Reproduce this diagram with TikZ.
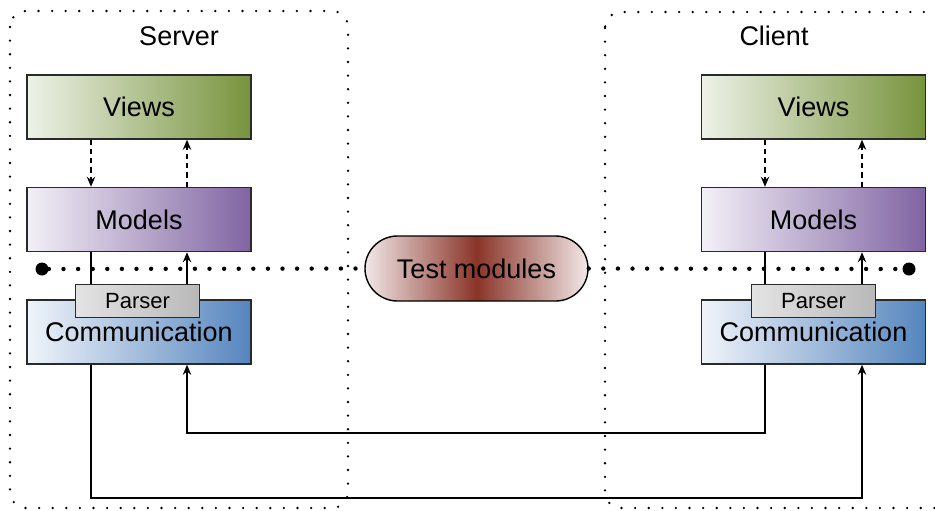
\documentclass[tikz,border=0pt]{standalone}
\usepackage{fontspec}
\setmainfont{Liberation Sans}
\usetikzlibrary{arrows.meta,shapes.misc}
\definecolor{viewsL}{HTML}{EEF2E8}
\definecolor{viewsR}{HTML}{77933C}
\definecolor{modelsL}{HTML}{F3F0F7}
\definecolor{modelsR}{HTML}{8064A2}
\definecolor{commL}{HTML}{F0F4FA}
\definecolor{commR}{HTML}{5585BE}
\definecolor{testE}{HTML}{F2E8E8}
\definecolor{testM}{HTML}{8A3428}
\definecolor{edge}{HTML}{2A2A2A}
\tikzset{
  layer/.style={draw=edge, line width=0.75pt, minimum width=112pt, minimum height=32pt,
    inner sep=0pt, font=\fontsize{13.5}{16}\selectfont},
  views/.style={layer, left color=viewsL, right color=viewsR},
  models/.style={layer, left color=modelsL, right color=modelsR},
  comm/.style={layer, left color=commL, right color=commR},
  parser/.style={draw=edge, line width=0.75pt, minimum width=62pt, minimum height=16.5pt,
    inner sep=0pt, left color=gray!22, right color=gray!55, font=\fontsize{11}{13}\selectfont},
  testnode/.style={rounded rectangle, draw=black, line width=0.7pt, minimum width=111.5pt,
    minimum height=32.5pt, inner sep=0pt, left color=testE, right color=testE, middle color=testM,
    font=\fontsize{13.5}{16}\selectfont},
  area/.style={line width=1.3pt, dash pattern=on 0pt off 6.8pt, line cap=round, rounded corners=8pt},
  bus/.style={line width=2.2pt, dash pattern=on 0pt off 7.3pt, line cap=round},
  title/.style={font=\fontsize{13.5}{16}\selectfont},
  arr/.style={line width=0.65pt, -{Stealth[length=5pt,width=4.2pt]}},
  plain/.style={line width=0.65pt},
  dasharr/.style={arr, dash pattern=on 2.6pt off 2pt},
  enddot/.style={circle, fill=black, inner sep=0pt, minimum size=6.5pt},
}
\begin{document}
\begin{tikzpicture}[x=0.5pt,y=-0.5pt]
\useasboundingbox (0,0) rectangle (935,510);
% areas
\draw[area] (10,11) rectangle (348,508);
\draw[area] (605,12) rectangle (960,508);
\node[title] (st) at (179,36) {Server};
\node[title] (ct) at (774,36) {Client};
% test modules and bus
\node[testnode] (test) at (476.5,268.5) {Test modules};
\node[enddot] (ld) at (42,269) {};
\node[enddot] (rd) at (909,269) {};
\draw[bus] (ld) -- (test.west);
\draw[bus] (test.east) -- (rd);
% columns
\coordinate (sL) at (91,0);
\coordinate (sR) at (187,0);
\coordinate (cL) at (765,0);
\coordinate (cR) at (862,0);
\coordinate (yUp) at (0,433);
\coordinate (yLow) at (0,498);
% server
\node[views] (sV) at (139,107) {Views};
\node[models] (sM) at (139,219.5) {Models};
\node[comm] (sC) at (139,332) {Communication};
\node[parser] (sP) at (137.5,301) {Parser};
% client
\node[views] (cV) at (813.5,107) {Views};
\node[models] (cM) at (813.5,219.5) {Models};
\node[comm] (cC) at (813.5,332) {Communication};
\node[parser] (cP) at (813.5,301) {Parser};
% internal connectors
\draw[dasharr] (sV.south -| sL) -- (sM.north -| sL);
\draw[dasharr] (sM.north -| sR) -- (sV.south -| sR);
\draw[plain] (sM.south -| sL) -- (sP.north -| sL);
\draw[arr] (sP.north -| sR) -- (sM.south -| sR);
\draw[dasharr] (cV.south -| cL) -- (cM.north -| cL);
\draw[dasharr] (cM.north -| cR) -- (cV.south -| cR);
\draw[plain] (cM.south -| cL) -- (cP.north -| cL);
\draw[arr] (cP.north -| cR) -- (cM.south -| cR);
% communication links
\draw[arr] (sC.south -| sL) -- (sL |- yLow) -- (cR |- yLow) -- (cC.south -| cR);
\draw[arr] (cC.south -| cL) -- (cL |- yUp) -- (sR |- yUp) -- (sC.south -| sR);
\end{tikzpicture}
\end{document}
